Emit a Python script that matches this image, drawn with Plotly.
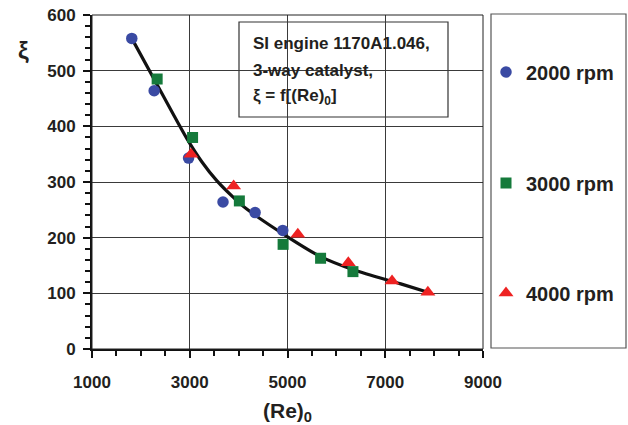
import plotly.graph_objects as go

# Data
rpm2000_x = [1814, 2272, 2976, 3680, 4337, 4903]
rpm2000_y = [558, 464, 343, 264, 245, 213]

rpm3000_x = [2333, 3058, 4015, 4910, 5677, 6339]
rpm3000_y = [485, 380, 266, 188, 163, 139]

rpm4000_x = [3025, 3898, 5211, 6244, 7139, 7872]
rpm4000_y = [350, 293, 206, 155, 122, 102]

fit_x = [1814, 2400, 2942, 3250, 3557, 3898, 4173, 4993, 5677, 6360, 7318, 7872]
fit_y = [558, 464, 378, 336, 302, 272, 251, 202, 166, 142, 117, 102]

x_ticks = [1000, 3000, 5000, 7000, 9000]
y_ticks = [0, 100, 200, 300, 400, 500, 600]

FONT = "Liberation Sans, Arial, sans-serif"
TXT = "#231f20"

fig = go.Figure()

fig.add_trace(go.Scatter(
    x=fit_x, y=fit_y, mode="lines", line=dict(color="#111111", width=3.2, shape="spline", smoothing=0.8),
    showlegend=False, hoverinfo="skip"))

fig.add_trace(go.Scatter(
    x=rpm2000_x, y=rpm2000_y, mode="markers", name="2000 rpm",
    marker=dict(symbol="circle", size=11.5, color="#3a4aa3"), legend="legend"))
fig.add_trace(go.Scatter(
    x=rpm3000_x, y=rpm3000_y, mode="markers", name="3000 rpm",
    marker=dict(symbol="square", size=11, color="#157a3b"), legend="legend2"))
fig.add_trace(go.Scatter(
    x=rpm4000_x, y=rpm4000_y, mode="markers", name="4000 rpm",
    marker=dict(symbol="triangle-up", size=13, color="#ee2222"), legend="legend3"))

L, R, T, B = 92, 483, 15, 349
W, H = 628, 425
def px(xp):
    return (xp - L) / (R - L)
def py(yp):
    return (B - yp) / (B - T)
def cx(xp):
    return xp / W
def cy(yp):
    return 1 - yp / H

leg_common = dict(font=dict(family=FONT, size=20, color=TXT, weight="bold"),
                  bgcolor="rgba(0,0,0,0)", borderwidth=0, xanchor="left", yanchor="middle",
                  xref="container", yref="container",
                  itemclick=False, itemdoubleclick=False)
fig.update_layout(
    legend=dict(x=cx(486), y=cy(72), **leg_common),
    legend2=dict(x=cx(486), y=cy(183), **leg_common),
    legend3=dict(x=cx(486), y=cy(293), **leg_common),
)

axis_common = dict(
    automargin=False,
    showline=True, linecolor="#111111", linewidth=2,
    ticks="outside", ticklen=7, tickwidth=2, tickcolor="#111111",
    showgrid=True, gridcolor="#3a3a3a", gridwidth=1, zeroline=False,
    tickfont=dict(family=FONT, size=17, color=TXT, weight="bold"),
)

fig.update_xaxes(
    range=[1000, 9000], tickvals=x_ticks, ticktext=[str(v) for v in x_ticks],
    minor=dict(dtick=500, tick0=1000, ticks="outside", ticklen=5, tickwidth=1.5, tickcolor="#111111", showgrid=False),
    ticklabelstandoff=10,
    title=dict(text="(Re)<sub>0</sub>", font=dict(family=FONT, size=21, color=TXT, weight="bold"), standoff=14),
    **axis_common)
fig.update_yaxes(
    range=[0, 600], tickvals=y_ticks, ticktext=[str(v) for v in y_ticks],
    minor=dict(dtick=20, tick0=0, ticks="outside", ticklen=5, tickwidth=1.5, tickcolor="#111111", showgrid=False),
    ticklabelstandoff=4,
    **axis_common)

shapes = [
    # plot frame
    dict(type="rect", xref="paper", yref="paper", x0=0, x1=1, y0=0, y1=1,
         line=dict(color="#222222", width=1), layer="above"),
    # info box
    dict(type="rect", xref="paper", yref="paper", x0=px(239), x1=px(448), y0=py(117), y1=py(22),
         line=dict(color="#333333", width=1.2), fillcolor="white", layer="between"),
    # legend box
    dict(type="rect", xref="paper", yref="paper", x0=px(491), x1=px(626), y0=py(348), y1=py(14),
         line=dict(color="#555555", width=1.2), fillcolor="rgba(0,0,0,0)"),
]

info_lines = ["SI engine 1170A1.046,", "3-way catalyst,", "ξ = f[(Re)<sub>0</sub>]"]
info_y = [43, 70, 97]
annotations = []
for t, yy in zip(info_lines, info_y):
    annotations.append(dict(text=t, xref="paper", yref="paper", x=px(251), y=py(yy),
                            xanchor="left", yanchor="middle", showarrow=False, align="left",
                            font=dict(family=FONT, size=17, color=TXT, weight="bold")))
annotations.append(dict(text="ξ", xref="paper", yref="paper", x=px(23), y=py(51),
                        xanchor="center", yanchor="middle", showarrow=False,
                        font=dict(family=FONT, size=24, color=TXT, weight="bold")))

fig.update_layout(
    width=W, height=H,
    margin=dict(l=L, r=W - R, t=T, b=H - B, autoexpand=False),
    paper_bgcolor="white", plot_bgcolor="white",
    shapes=shapes, annotations=annotations,
    font=dict(family=FONT, color=TXT),
)

fig.write_html("out.html", config={"displayModeBar": False},
               post_script="document.body.style.margin='0';document.body.style.padding='0';")
